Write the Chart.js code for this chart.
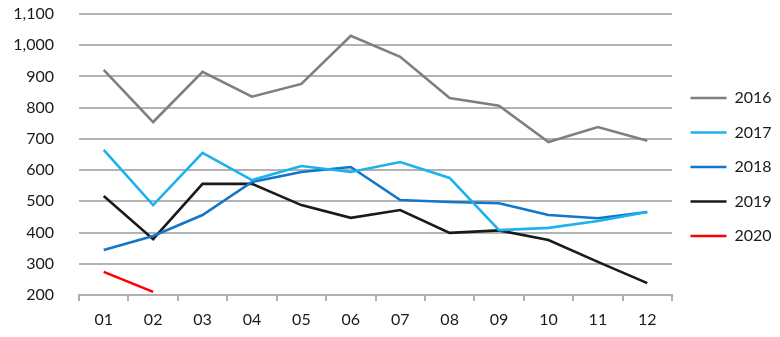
<!DOCTYPE html>
<html>
<head>
<meta charset="utf-8">
<script src="https://cdn.jsdelivr.net/npm/chart.js@4/dist/chart.umd.min.js"></script>
<style>
  html, body { margin: 0; padding: 0; background: #fff; }
  #wrap { width: 780px; height: 337px; position: relative; }
</style>
</head>
<body>
<div id="wrap"><canvas id="c" width="780" height="337"></canvas></div>
<script>
// Monthly values per year
const months = ['01','02','03','04','05','06','07','08','09','10','11','12'];
const y2016 = [921, 754, 915, 835, 876, 1030, 963, 831, 806, 690, 738, 694];
const y2017 = [665, 488, 655, 568, 613, 594, 626, 575, 408, 415, 437, 466];
const y2018 = [344, 389, 456, 562, 594, 610, 504, 498, 494, 456, 446, 466];
const y2019 = [517, 379, 556, 556, 488, 447, 472, 399, 407, 376, 306, 238];
const y2020 = [274, 210];

const yTicks = { min: 200, max: 1100, step: 100 };

const FONT = { family: 'Lato, "Liberation Sans", sans-serif', size: 16 };
const TEXT = '#1a1a1a';

function series(label, data, color) {
  return {
    label, data,
    borderColor: color,
    backgroundColor: color,
    borderWidth: 2.6,
    pointRadius: 0,
    pointHoverRadius: 0,
    tension: 0,
    fill: false
  };
}

new Chart(document.getElementById('c'), {
  type: 'line',
  data: {
    labels: months,
    datasets: [
      series('2016', y2016, '#7f7f7f'),
      series('2017', y2017, '#1cb2ee'),
      series('2018', y2018, '#1276c9'),
      series('2019', y2019, '#1a1a1a'),
      series('2020', y2020, '#ff0000')
    ]
  },
  options: {
    responsive: false,
    animation: false,
    devicePixelRatio: 1,
    layout: { padding: { top: 14, right: 0, bottom: 0, left: 0 } },
    plugins: {
      tooltip: { enabled: false },
      legend: {
        position: 'right',
        fullSize: false,
        maxWidth: 108,
        // blank spacer above the legend entries
        title: { display: true, text: ' ', font: { size: 1 }, padding: { top: 0, bottom: 23.8 } },
        labels: {
          usePointStyle: true,
          pointStyle: 'line',
          pointStyleWidth: 36,
          padding: 18.5,
          color: TEXT,
          font: FONT
        }
      }
    },
    scales: {
      x: {
        offset: true,
        afterFit: s => { s.height = 42; },
        border: { display: true, color: '#b0b0b0', width: 2 },
        grid: {
          offset: true,
          drawOnChartArea: false,
          drawTicks: true,
          tickLength: 6,
          color: '#b0b0b0',
          lineWidth: 2
        },
        ticks: { color: TEXT, font: FONT, padding: 9, maxRotation: 0 }
      },
      y: {
        min: yTicks.min,
        max: yTicks.max,
        afterFit: s => { s.width = 79; s.paddingTop = 0; s.paddingBottom = 0; },
        border: { display: false },
        grid: { color: '#b3b3b3', lineWidth: 2, drawTicks: false },
        ticks: {
          stepSize: yTicks.step,
          color: TEXT,
          font: FONT,
          padding: 25,
          callback: v => v.toLocaleString('en-US')
        }
      }
    }
  }
});
</script>
</body>
</html>
